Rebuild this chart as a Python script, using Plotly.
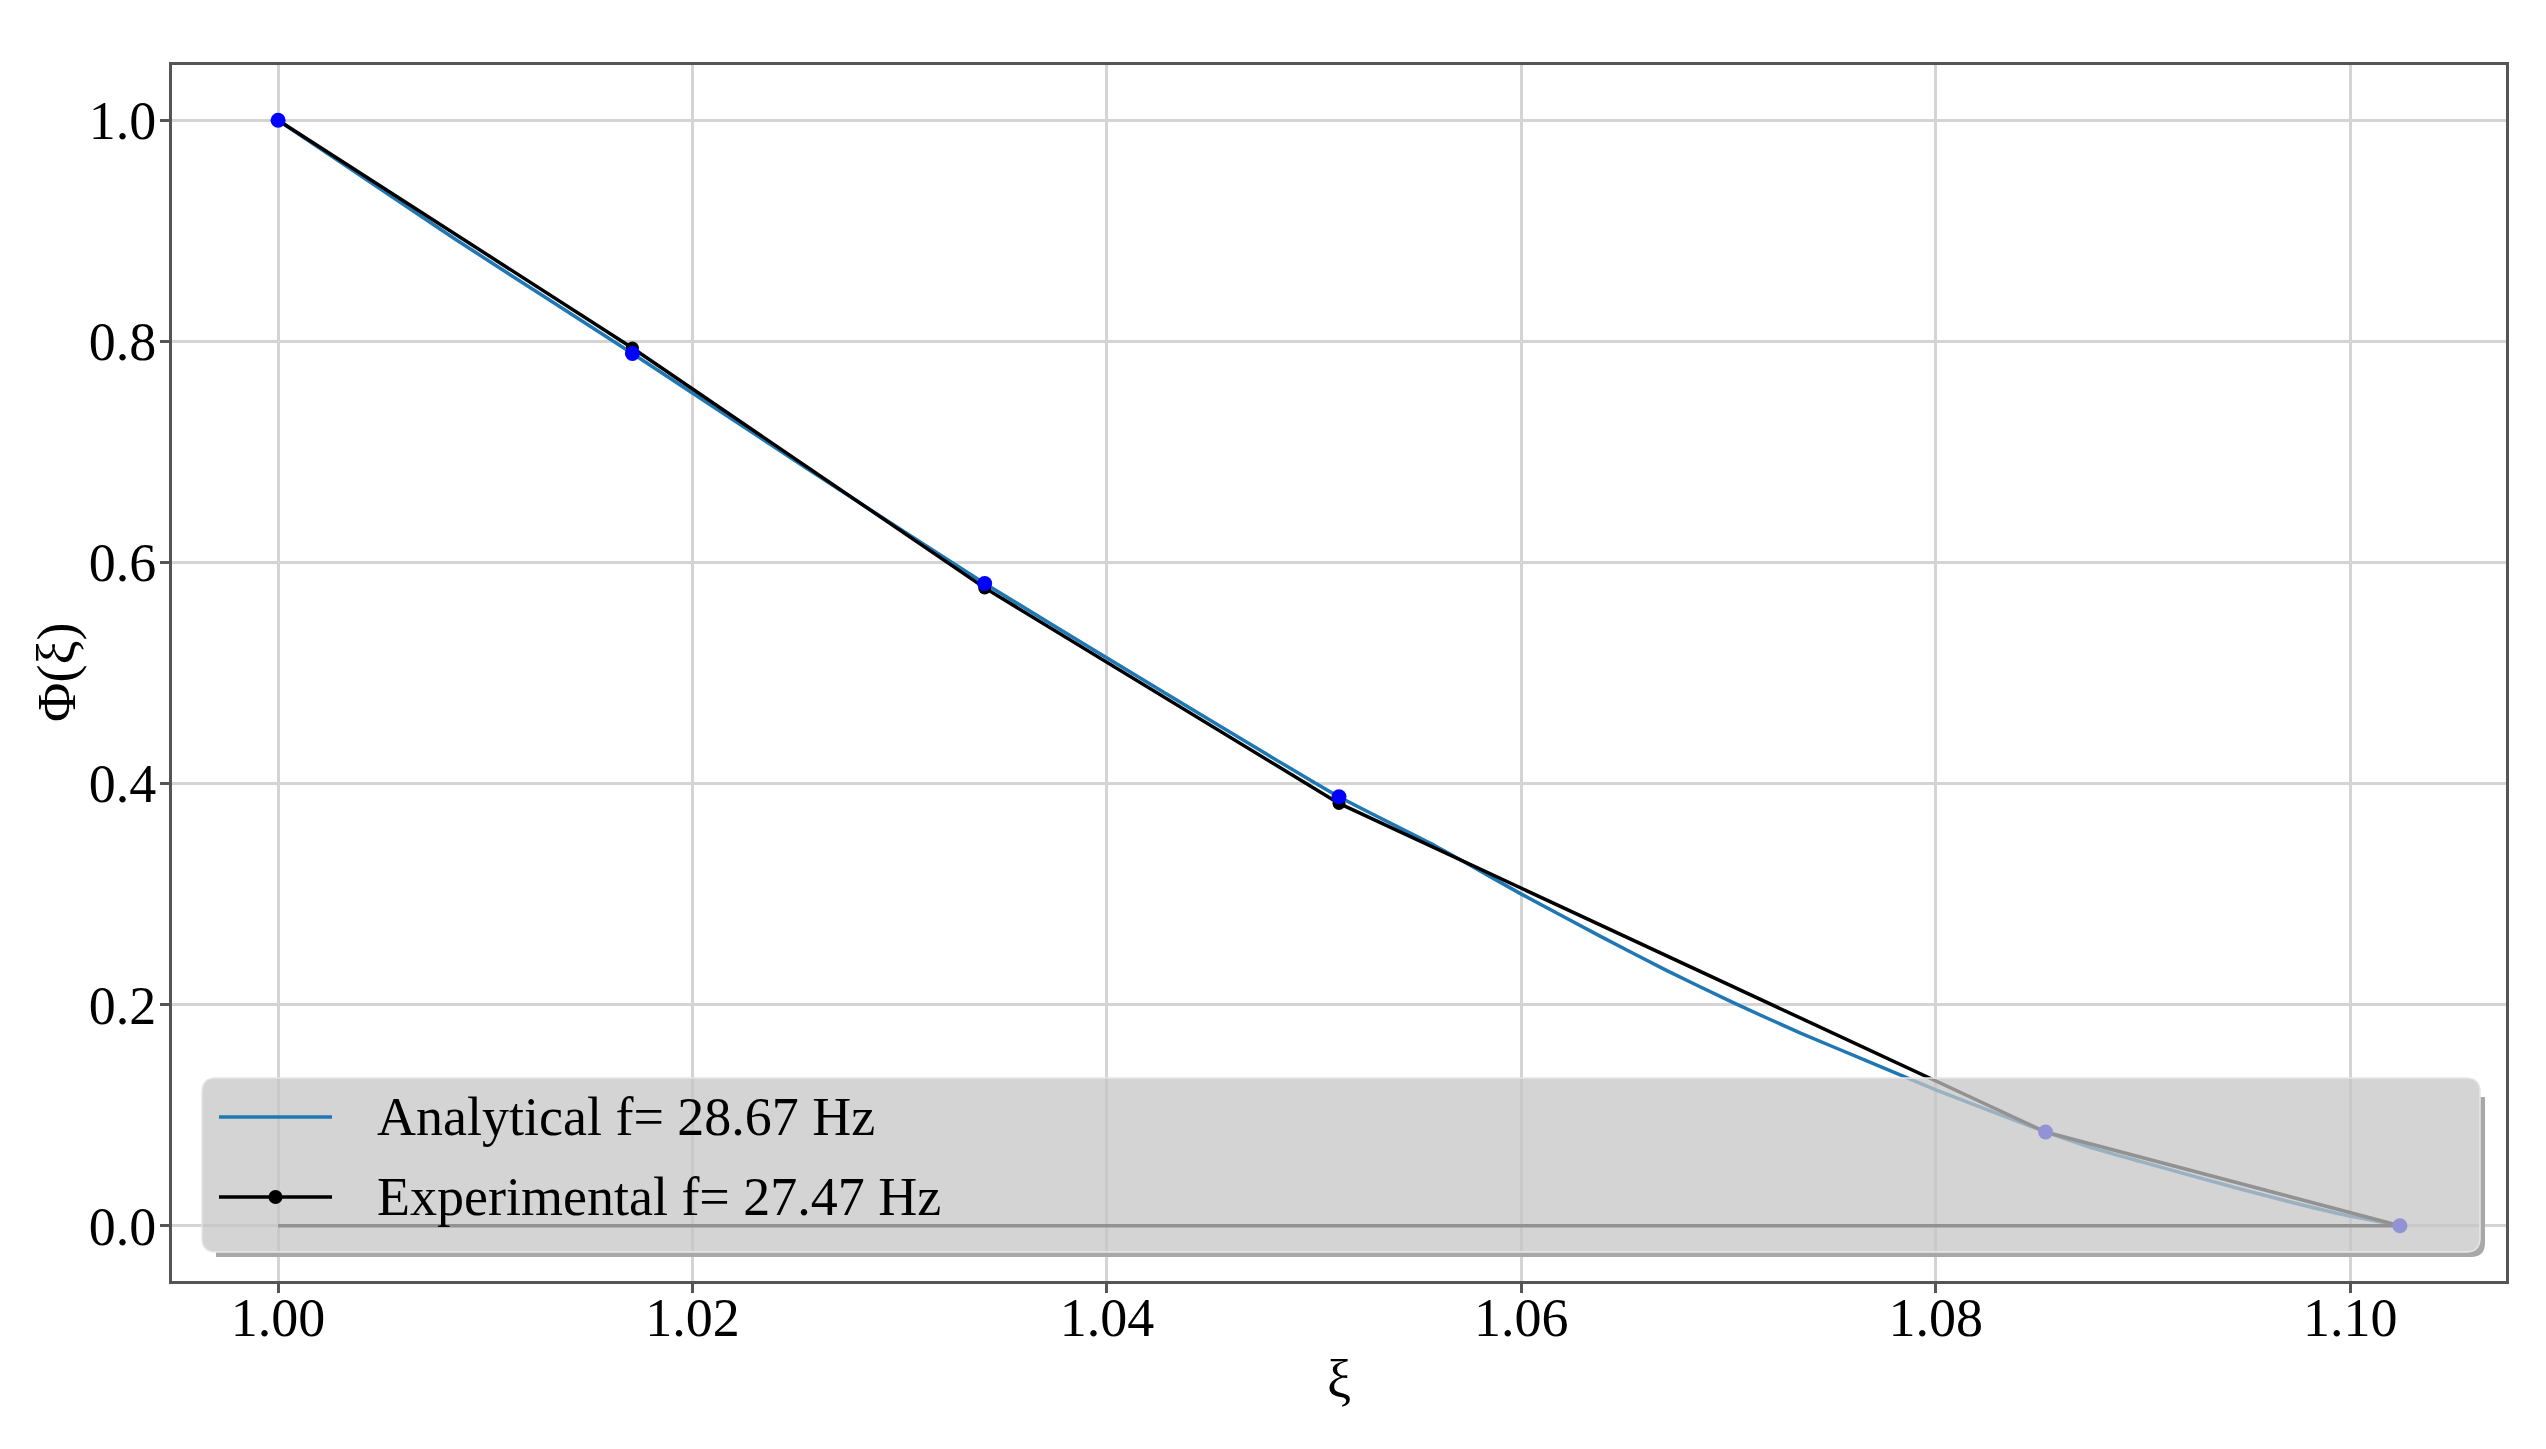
import plotly.graph_objects as go

# mode shape data
xi_exp = [1.0, 1.0171, 1.0341, 1.0512, 1.0853, 1.1024]
phi_exp = [1.0, 0.794, 0.577, 0.382, 0.0848, 0.0]
phi_ana_at_exp = [1.0, 0.789, 0.581, 0.388, 0.0848, 0.0]

xi_ana = [1.0, 1.0085, 1.0171, 1.0256, 1.0341, 1.0427, 1.0512, 1.0559, 1.06,
          1.0638, 1.067, 1.0702, 1.0735, 1.0767, 1.08, 1.0853, 1.0875, 1.0899,
          1.0947, 1.0996, 1.1024]
phi_ana = [1.0, 0.893, 0.789, 0.684, 0.581, 0.483, 0.388, 0.343, 0.300,
           0.262, 0.231, 0.202, 0.174, 0.149, 0.123, 0.0848, 0.0707, 0.058,
           0.0332, 0.0103, 0.0]

x_ticks = [1.00, 1.02, 1.04, 1.06, 1.08, 1.10]
y_ticks = [0.0, 0.2, 0.4, 0.6, 0.8, 1.0]

label_ana = "Analytical f= 28.67 Hz"
label_exp = "Experimental f= 27.47 Hz"

W, H = 2546, 1449
OFF = 8  # page body margin around the plot div
# plot area as it should land on screen
X0, X1, Y0, Y1 = 172, 2506, 65, 1281
FONT = "Liberation Serif"


def px(x):
    return (x - X0) / (X1 - X0)


def py(y):
    return (Y1 - y) / (Y1 - Y0)


def path_from(cmds):
    out = []
    for cmd, *coords in cmds:
        out.append(cmd + " ".join("%.5f,%.5f" % (px(a), py(b)) for a, b in coords))
    return " ".join(out) + " Z"


def rounded_rect(x0, y0, x1, y1, r):
    return path_from([
        ("M", (x0 + r, y0)), ("L", (x1 - r, y0)), ("Q", (x1, y0), (x1, y0 + r)),
        ("L", (x1, y1 - r)), ("Q", (x1, y1), (x1 - r, y1)),
        ("L", (x0 + r, y1)), ("Q", (x0, y1), (x0, y1 - r)),
        ("L", (x0, y0 + r)), ("Q", (x0, y0), (x0 + r, y0)),
    ])


fig = go.Figure()

fig.add_trace(go.Scatter(
    x=xi_ana, y=phi_ana, mode="lines", name=label_ana,
    line=dict(color="#1f77b4", width=3.5, shape="spline", smoothing=0.5),
    showlegend=False
))
# undeformed reference line
fig.add_trace(go.Scatter(
    x=[xi_exp[0], xi_exp[-1]], y=[0, 0], mode="lines",
    line=dict(color="black", width=3.5), showlegend=False
))
fig.add_trace(go.Scatter(
    x=xi_exp, y=phi_exp, mode="lines+markers", name=label_exp,
    line=dict(color="black", width=3.5),
    marker=dict(color="black", size=13), showlegend=False
))
fig.add_trace(go.Scatter(
    x=xi_exp, y=phi_ana_at_exp, mode="markers",
    marker=dict(color="blue", size=15), showlegend=False
))

# legend drawn by hand: full width box, rounded corners, shadow
bx0, by0, bx1, by1 = 202, 1078, 2480, 1252
d, r = 5, 14
shadow = path_from([
    ("M", (bx0 + r, by1)), ("L", (bx0 + r, by1 + d)), ("L", (bx1 + d - r, by1 + d)),
    ("Q", (bx1 + d, by1 + d), (bx1 + d, by1 + d - r)),
    ("L", (bx1 + d, by0 + d + r)), ("L", (bx1, by0 + d + r)), ("L", (bx1, by1 - r)),
    ("Q", (bx1, by1), (bx1 - r, by1)),
])
row1, row2 = 1117, 1197
hx0, hx1, tx = 219, 332, 375
shapes = [
    dict(type="path", xref="paper", yref="paper", layer="above", path=shadow,
         fillcolor="#a8a8a8", line=dict(width=0)),
    dict(type="path", xref="paper", yref="paper", layer="above",
         path=rounded_rect(bx0, by0, bx1, by1, r),
         fillcolor="rgba(197,197,197,0.74)", line=dict(color="#e6e6e6", width=1.5)),
    dict(type="line", xref="paper", yref="paper", layer="above",
         x0=px(hx0), x1=px(hx1), y0=py(row1), y1=py(row1),
         line=dict(color="#1f77b4", width=3.5)),
    dict(type="line", xref="paper", yref="paper", layer="above",
         x0=px(hx0), x1=px(hx1), y0=py(row2), y1=py(row2),
         line=dict(color="black", width=3.5)),
    dict(type="circle", xref="paper", yref="paper", layer="above",
         x0=px((hx0 + hx1) / 2 - 7), x1=px((hx0 + hx1) / 2 + 7),
         y0=py(row2 - 7), y1=py(row2 + 7),
         fillcolor="black", line=dict(width=0)),
]
annotations = [
    dict(text=label_ana, xref="paper", yref="paper", x=px(tx), y=py(row1),
         xanchor="left", yanchor="middle", showarrow=False),
    dict(text=label_exp, xref="paper", yref="paper", x=px(tx), y=py(row2),
         xanchor="left", yanchor="middle", showarrow=False),
    # axis titles
    dict(text="ξ", xref="paper", yref="paper", x=0.5, y=py(1380),
         xanchor="center", yanchor="middle", showarrow=False),
    dict(text="Φ(ξ)", xref="paper", yref="paper", x=px(57), y=py(672),
         xanchor="center", yanchor="middle", textangle=-90, showarrow=False),
]

fig.update_layout(
    width=W, height=H,
    margin=dict(l=X0 - OFF, r=W - X1 + OFF, t=Y0 - OFF, b=H - Y1 + OFF),
    paper_bgcolor="white", plot_bgcolor="white",
    font=dict(family=FONT, size=54, color="black"),
    shapes=shapes, annotations=annotations,
    xaxis=dict(
        range=[0.99488, 1.10752], tickvals=x_ticks, tickformat=".2f",
        showgrid=True, gridcolor="#d4d4d4", gridwidth=2.5, zeroline=False,
        showline=True, linecolor="#555555", linewidth=3, mirror=True,
        ticks="outside", ticklen=9, tickwidth=2.5, tickcolor="#555555",
        ticklabelstandoff=-22,
    ),
    yaxis=dict(
        range=[-0.05, 1.05], tickvals=y_ticks, tickformat=".1f",
        showgrid=True, gridcolor="#d4d4d4", gridwidth=2.5, zeroline=False,
        showline=True, linecolor="#555555", linewidth=3, mirror=True,
        ticks="outside", ticklen=9, tickwidth=2.5, tickcolor="#555555",
        ticklabelstandoff=-7,
    ),
)

fig.write_html("out.html")
